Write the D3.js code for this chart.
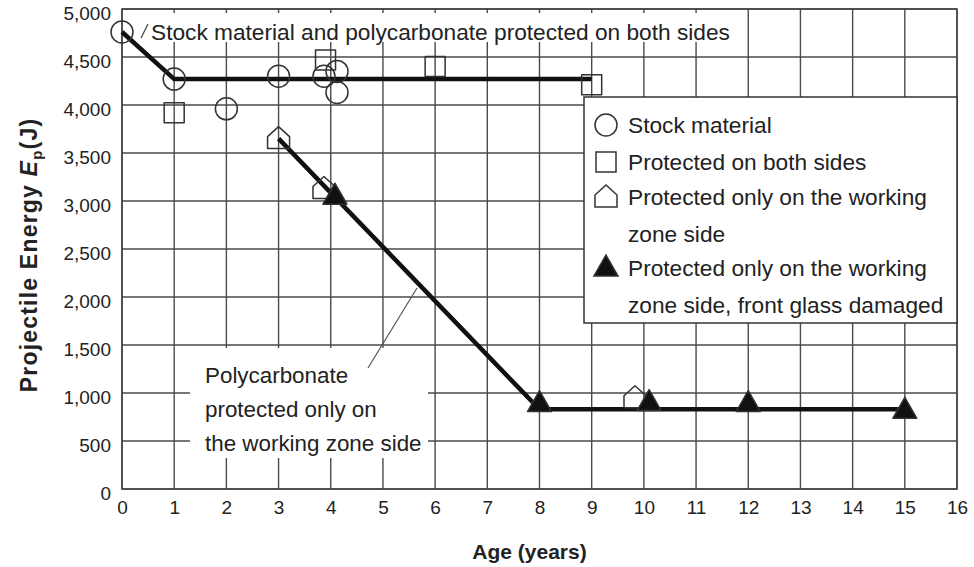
<!DOCTYPE html>
<html><head><meta charset="utf-8">
<script src="https://cdn.jsdelivr.net/npm/d3@7"></script>
<style>body{margin:0;background:#fff}</style>
</head><body><svg id="c" width="974" height="567"></svg>
<script>
// ---- data ----
const xTicks = d3.range(0, 17);
const yTicks = d3.range(0, 5001, 500);
const stockX = [0, 1, 2, 3, 3.87, 4.12, 4.12];
const stockY = [4760, 4270, 3960, 4300, 4300, 4350, 4130];
const bothX = [1, 3.9, 6, 9];
const bothY = [3920, 4470, 4400, 4210];
const workX = [3, 3.87, 9.83];
const workY = [3650, 3130, 950];
const damX = [4.08, 8, 10.1, 12, 15];
const damY = [3050, 890, 900, 890, 820];
const fitStockX = [0, 1, 9];
const fitStockY = [4760, 4270, 4270];
const fitWorkX = [3, 8, 15];
const fitWorkY = [3650, 830, 830];
const legendLabels = [
  ["Stock material"],
  ["Protected on both sides"],
  ["Protected only on the working", "zone side"],
  ["Protected only on the working", "zone side, front glass damaged"]
];
const noteTop = "Stock material and polycarbonate protected on both sides";
const noteMid = ["Polycarbonate", "protected only on", "the working zone side"];

// ---- layout ----
const svg = d3.select("#c");
const W = 974, H = 567;
const m = {l: 122, r: 17, t: 9, b: 78};
const x = d3.scaleLinear([0, 16], [m.l, W - m.r]);
const y = d3.scaleLinear([0, 5000], [H - m.b, m.t]);
const font = "'Liberation Sans', Arial, Helvetica, sans-serif";
const ink = "#222";
const gridC = "#4a4a4a";

svg.append("rect").attr("width", W).attr("height", H).attr("fill", "#fff");

// grid
const g = svg.append("g");
g.selectAll(".vg").data(xTicks).join("line")
  .attr("x1", d => x(d)).attr("x2", d => x(d))
  .attr("y1", y(0)).attr("y2", y(5000))
  .attr("stroke", gridC).attr("stroke-width", 1.4);
g.selectAll(".hg").data(yTicks).join("line")
  .attr("x1", x(0)).attr("x2", x(16))
  .attr("y1", d => y(d)).attr("y2", d => y(d))
  .attr("stroke", gridC).attr("stroke-width", 1.4);
svg.append("rect").attr("x", x(0)).attr("y", y(5000))
  .attr("width", x(16) - x(0)).attr("height", y(0) - y(5000))
  .attr("fill", "none").attr("stroke", "#444").attr("stroke-width", 1.5);

// axes labels (via d3 axes, no domain/ticks)
const xa = svg.append("g").attr("transform", `translate(0,${y(0)})`)
  .call(d3.axisBottom(x).tickValues(xTicks).tickSize(0).tickPadding(12).tickFormat(d3.format("d")));
xa.select(".domain").remove();
xa.selectAll("text").attr("font-family", font).attr("font-size", 19).attr("fill", ink);
const ya = svg.append("g").attr("transform", `translate(${x(0)},0)`)
  .call(d3.axisLeft(y).tickValues(yTicks).tickSize(0).tickPadding(11).tickFormat(d3.format(",")));
ya.select(".domain").remove();
ya.selectAll("text").attr("font-family", font).attr("font-size", 19).attr("fill", ink).attr("dy", "0.55em");

svg.append("text").attr("x", (x(0) + x(16)) / 2 - 10).attr("y", 559)
  .attr("text-anchor", "middle").attr("font-family", font).attr("font-weight", "bold")
  .attr("font-size", 21).attr("fill", ink).text("Age (years)");
const yt = svg.append("text").attr("transform", `translate(37,${255}) rotate(-90)`)
  .attr("text-anchor", "middle").attr("font-family", font).attr("font-weight", "bold")
  .attr("font-size", 23).attr("letter-spacing", 1.2).attr("fill", ink);
yt.append("tspan").text("Projectile Energy ");
yt.append("tspan").attr("font-style", "italic").text("E");
yt.append("tspan").attr("font-size", 15).attr("dy", 5).text("p");
yt.append("tspan").attr("dy", -5).text("(J)");

// annotation backgrounds
svg.append("rect").attr("x", 139).attr("y", 13).attr("width", 600).attr("height", 29).attr("fill", "#fff");
svg.append("rect").attr("x", 190).attr("y", 348).attr("width", 238).attr("height", 110).attr("fill", "#fff");

// fit lines
const line = d3.line().x(d => x(d[0])).y(d => y(d[1]));
svg.append("path").datum(d3.zip(fitStockX, fitStockY)).attr("d", line)
  .attr("fill", "none").attr("stroke", "#111").attr("stroke-width", 4.5);
svg.append("path").datum(d3.zip(fitWorkX, fitWorkY)).attr("d", line)
  .attr("fill", "none").attr("stroke", "#111").attr("stroke-width", 4.5);

// markers
const pent = "M-11,10L11,10L11,-2L0,-12L-11,-2Z";
const circ = d3.symbol(d3.symbolCircle, Math.PI * 11 * 11)();
const sq = "M-10,-10L10,-10L10,10L-10,10Z";
const tri = "M0,-13L12,8L-12,8Z";
function marks(xs, ys, path, fill) {
  svg.append("g").selectAll("path").data(d3.zip(xs, ys)).join("path")
    .attr("transform", d => `translate(${x(d[0])},${y(d[1])})`)
    .attr("d", path).attr("fill", fill).attr("stroke", "#333").attr("stroke-width", 1.5)
    .attr("stroke-linejoin", "round");
}
marks(stockX, stockY, circ, "none");
marks(bothX, bothY, sq, "none");
marks(workX, workY, pent, "none");
marks(damX, damY, tri, "#111");

// annotations
svg.append("line").attr("x1", 141).attr("y1", 38).attr("x2", 148).attr("y2", 24)
  .attr("stroke", "#444").attr("stroke-width", 1.2);
svg.append("text").attr("x", 151).attr("y", 40).attr("font-family", font)
  .attr("font-size", 22.7).attr("fill", ink).text(noteTop);
svg.append("line").attr("x1", 368).attr("y1", 368).attr("x2", 417).attr("y2", 288)
  .attr("stroke", "#555").attr("stroke-width", 1.2);
svg.append("g").selectAll("text").data(noteMid).join("text")
  .attr("x", 205).attr("y", (d, i) => 383 + i * 34).attr("font-family", font)
  .attr("font-size", 22.4).attr("fill", ink).text(d => d);

// legend
const lg = svg.append("g");
lg.append("rect").attr("x", 584).attr("y", 97).attr("width", 373).attr("height", 226)
  .attr("fill", "#fff").attr("stroke", "#333").attr("stroke-width", 1.5);
const legPaths = [[circ, "none"], [sq, "none"], [pent, "none"], [tri, "#111"]];
const rowY = [125, 162, 197, 268];
legendLabels.forEach((lines, i) => {
  lg.append("path").attr("transform", `translate(606,${rowY[i]})`)
    .attr("d", legPaths[i][0]).attr("fill", legPaths[i][1])
    .attr("stroke", "#333").attr("stroke-width", 1.5);
  lines.forEach((t, j) => {
    lg.append("text").attr("x", 628).attr("y", rowY[i] + 8 + j * 37)
      .attr("font-family", font).attr("font-size", 22.7).attr("fill", ink).text(t);
  });
});
</script></body></html>
